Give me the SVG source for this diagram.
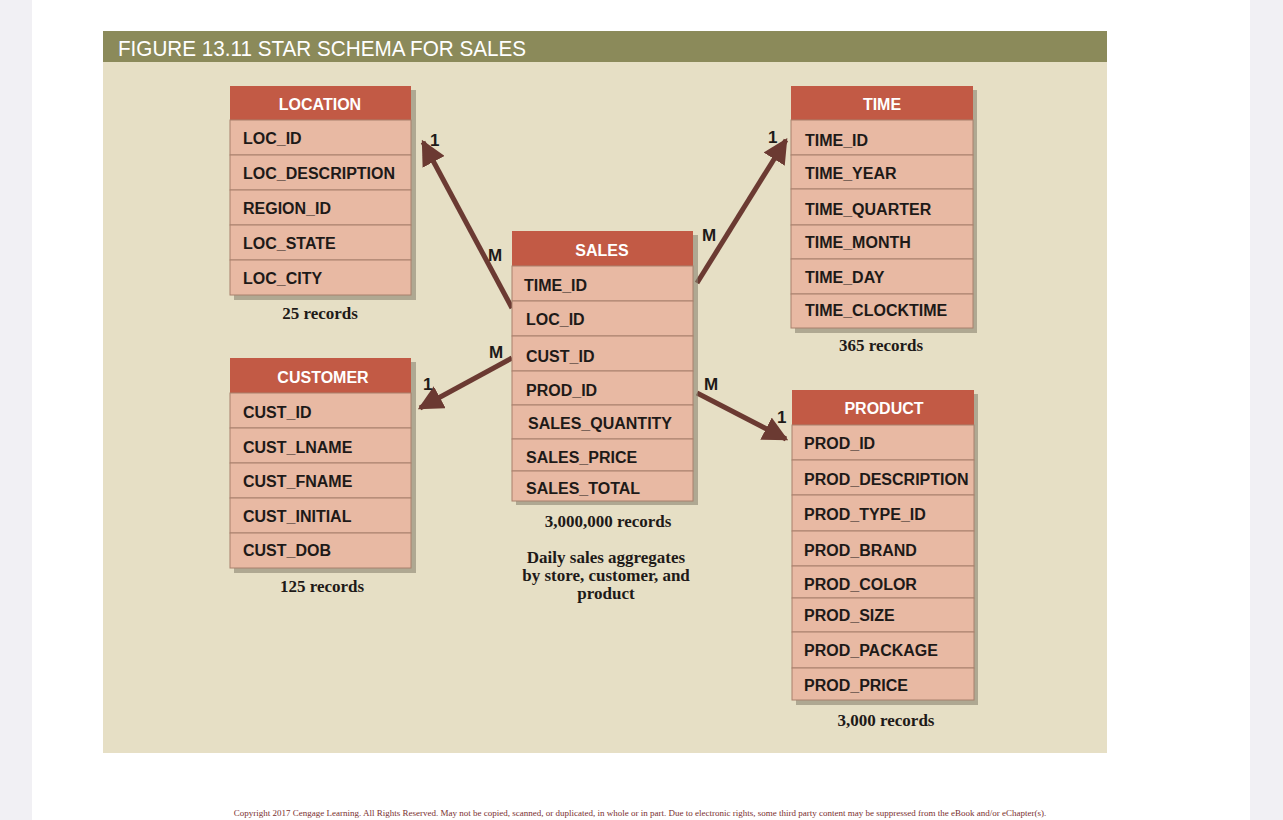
<svg xmlns="http://www.w3.org/2000/svg" width="1283" height="820" viewBox="0 0 1283 820">
<defs>
<style>
.hd{fill:#c25a45}
.rw{fill:#e8b9a3;stroke:#a8806c;stroke-width:1}
.ht{font-family:"Liberation Sans",sans-serif;font-weight:bold;font-size:16px;fill:#fff;text-anchor:middle}
.t{font-family:"Liberation Sans",sans-serif;font-weight:bold;font-size:16px;fill:#1e1a18}
.rec{font-family:"Liberation Serif",serif;font-weight:bold;font-size:17px;fill:#1e1a18;text-anchor:middle}
.lb{font-family:"Liberation Sans",sans-serif;font-weight:bold;font-size:17px;fill:#1e1a18}
.sh{fill:#8a8470;opacity:0.6}
</style>
<marker id="ah" viewBox="0 0 10 10" refX="9" refY="5" markerWidth="5" markerHeight="5" orient="auto"><path d="M0,0L10,5L0,10z" fill="#6b3a32"/></marker>
</defs>
<rect width="1283" height="820" fill="#f1f0f4"/>
<rect x="32" y="0" width="1218" height="820" fill="#fff"/>
<rect x="103" y="31" width="1004" height="722" fill="#e6dfc5"/>
<rect x="103" y="31" width="1004" height="31" fill="#8b8a5a"/>
<text x="118" y="56" font-family="Liberation Sans Narrow, Liberation Sans, sans-serif" font-size="22" fill="#fff" textLength="408" lengthAdjust="spacingAndGlyphs">FIGURE 13.11  STAR SCHEMA FOR SALES</text>

<g id="connectors" stroke="#6b3a32" stroke-width="5" fill="none" marker-end="url(#ah)">
<line x1="512" y1="308" x2="423" y2="142"/>
<line x1="697" y1="283" x2="786" y2="140"/>
<line x1="512" y1="358" x2="420" y2="408"/>
<line x1="697" y1="393" x2="786" y2="439"/>
</g>
<g id="labels">
<text class="lb" x="430" y="146">1</text>
<text class="lb" x="488" y="261">M</text>
<text class="lb" x="768" y="143">1</text>
<text class="lb" x="702" y="241">M</text>
<text class="lb" x="489" y="358">M</text>
<text class="lb" x="423" y="390">1</text>
<text class="lb" x="704" y="390">M</text>
<text class="lb" x="777" y="423">1</text>
</g>

<g id="location">
<rect class="sh" x="234" y="90" width="182" height="210"/>
<rect class="hd" x="230" y="86" width="181" height="34"/>
<text class="ht" x="320" y="110">LOCATION</text>
<rect class="rw" x="230" y="120" width="181" height="35"/><text class="t" x="243" y="144">LOC_ID</text>
<rect class="rw" x="230" y="155" width="181" height="35"/><text class="t" x="243" y="179">LOC_DESCRIPTION</text>
<rect class="rw" x="230" y="190" width="181" height="35"/><text class="t" x="243" y="214">REGION_ID</text>
<rect class="rw" x="230" y="225" width="181" height="35"/><text class="t" x="243" y="249">LOC_STATE</text>
<rect class="rw" x="230" y="260" width="181" height="35"/><text class="t" x="243" y="284">LOC_CITY</text>
<text class="rec" x="320" y="319">25 records</text>
</g>

<g id="time">
<rect class="sh" x="795" y="90" width="182" height="243"/>
<rect class="hd" x="791" y="86" width="182" height="34"/>
<text class="ht" x="882" y="110">TIME</text>
<rect class="rw" x="791" y="120" width="182" height="35"/><text class="t" x="805" y="146">TIME_ID</text>
<rect class="rw" x="791" y="155" width="182" height="34"/><text class="t" x="805" y="179">TIME_YEAR</text>
<rect class="rw" x="791" y="189" width="182" height="36"/><text class="t" x="805" y="215">TIME_QUARTER</text>
<rect class="rw" x="791" y="225" width="182" height="34"/><text class="t" x="805" y="248">TIME_MONTH</text>
<rect class="rw" x="791" y="259" width="182" height="35"/><text class="t" x="805" y="283">TIME_DAY</text>
<rect class="rw" x="791" y="294" width="182" height="34"/><text class="t" x="805" y="316">TIME_CLOCKTIME</text>
<text class="rec" x="881" y="351">365 records</text>
</g>

<g id="sales">
<rect class="sh" x="516" y="235" width="182" height="270"/>
<rect class="hd" x="512" y="231" width="181" height="35"/>
<text class="ht" x="602" y="256">SALES</text>
<rect class="rw" x="512" y="266" width="181" height="35"/><text class="t" x="524" y="291">TIME_ID</text>
<rect class="rw" x="512" y="301" width="181" height="35"/><text class="t" x="526" y="325">LOC_ID</text>
<rect class="rw" x="512" y="336" width="181" height="35"/><text class="t" x="526" y="362">CUST_ID</text>
<rect class="rw" x="512" y="371" width="181" height="34"/><text class="t" x="526" y="396">PROD_ID</text>
<rect class="rw" x="512" y="405" width="181" height="34"/><text class="t" x="528" y="429">SALES_QUANTITY</text>
<rect class="rw" x="512" y="439" width="181" height="32"/><text class="t" x="526" y="463">SALES_PRICE</text>
<rect class="rw" x="512" y="471" width="181" height="30"/><text class="t" x="526" y="494">SALES_TOTAL</text>
<text class="rec" x="608" y="527">3,000,000 records</text>
<text class="rec" x="606" y="563">Daily sales aggregates</text>
<text class="rec" x="606" y="581">by store, customer, and</text>
<text class="rec" x="606" y="599">product</text>
</g>

<g id="customer">
<rect class="sh" x="234" y="362" width="182" height="211"/>
<rect class="hd" x="230" y="358" width="181" height="35"/>
<text class="ht" x="323" y="383">CUSTOMER</text>
<rect class="rw" x="230" y="393" width="181" height="35"/><text class="t" x="243" y="418">CUST_ID</text>
<rect class="rw" x="230" y="428" width="181" height="35"/><text class="t" x="243" y="453">CUST_LNAME</text>
<rect class="rw" x="230" y="463" width="181" height="35"/><text class="t" x="243" y="487">CUST_FNAME</text>
<rect class="rw" x="230" y="498" width="181" height="35"/><text class="t" x="243" y="522">CUST_INITIAL</text>
<rect class="rw" x="230" y="533" width="181" height="35"/><text class="t" x="243" y="556">CUST_DOB</text>
<text class="rec" x="322" y="592">125 records</text>
</g>

<g id="product">
<rect class="sh" x="796" y="394" width="182" height="311"/>
<rect class="hd" x="792" y="390" width="182" height="35"/>
<text class="ht" x="884" y="414">PRODUCT</text>
<rect class="rw" x="792" y="425" width="182" height="35"/><text class="t" x="804" y="449">PROD_ID</text>
<rect class="rw" x="792" y="460" width="182" height="35"/><text class="t" x="804" y="485">PROD_DESCRIPTION</text>
<rect class="rw" x="792" y="495" width="182" height="36"/><text class="t" x="804" y="520">PROD_TYPE_ID</text>
<rect class="rw" x="792" y="531" width="182" height="35"/><text class="t" x="804" y="556">PROD_BRAND</text>
<rect class="rw" x="792" y="566" width="182" height="32"/><text class="t" x="804" y="590">PROD_COLOR</text>
<rect class="rw" x="792" y="598" width="182" height="34"/><text class="t" x="804" y="621">PROD_SIZE</text>
<rect class="rw" x="792" y="632" width="182" height="36"/><text class="t" x="804" y="656">PROD_PACKAGE</text>
<rect class="rw" x="792" y="668" width="182" height="32"/><text class="t" x="804" y="691">PROD_PRICE</text>
<text class="rec" x="886" y="726">3,000 records</text>
</g>

<text x="640" y="816" font-family="Liberation Serif, serif" font-size="9" fill="#7a3030" text-anchor="middle">Copyright 2017 Cengage Learning. All Rights Reserved. May not be copied, scanned, or duplicated, in whole or in part. Due to electronic rights, some third party content may be suppressed from the eBook and/or eChapter(s).</text>
</svg>
